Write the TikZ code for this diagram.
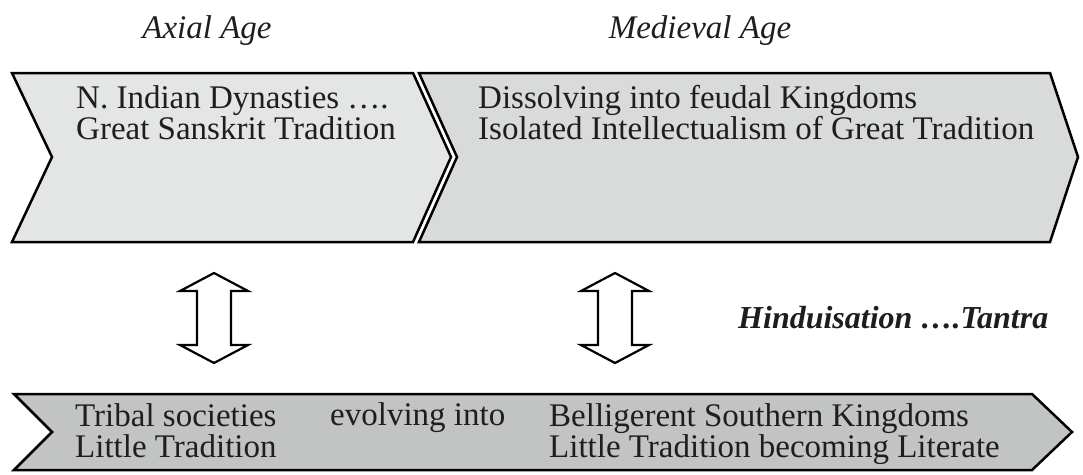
\documentclass[tikz,border=0pt]{standalone}
\usepackage{fontspec}
\setmainfont{Liberation Serif}

\definecolor{paleband}{HTML}{E4E6E5}
\definecolor{midband}{HTML}{D9DBDA}
\definecolor{darkband}{HTML}{C2C4C3}
\definecolor{ink}{HTML}{1E1E1E}

\tikzset{
  band/.style={draw=black, line width=2.5pt, line join=miter},
  txt/.style={anchor=base west, inner sep=0pt, align=left, text=ink,
    font=\fontsize{33}{31}\selectfont},
  age/.style={anchor=base, inner sep=0pt, text=ink,
    font=\fontsize{33}{31}\selectfont\itshape},
  % hollow two-headed arrow between the bands
  swap/.pic={
    \draw[line width=2.2pt, line join=miter, fill=white]
      (0,-45) -- (34,-27) -- (17,-27) -- (17,27) -- (34,27) -- (0,45)
      -- (-34,27) -- (-17,27) -- (-17,-27) -- (-34,-27) -- cycle;
  }
}

\begin{document}
\begin{tikzpicture}[x=1pt,y=-1pt]
  \useasboundingbox (0,0) rectangle (1083,474);

  % the two ages on top
  \draw[band,fill=paleband] (12,73) -- (413,73) -- (451,157) -- (413,242)
    -- (12,242) -- (52,157) -- cycle;
  \draw[band,fill=midband] (419,73) -- (1050,73) -- (1078,157) -- (1050,242)
    -- (419,242) -- (457,157) -- cycle;
  % the southern band
  \draw[band,fill=darkband] (14,394) -- (1032,394) -- (1072,432) -- (1032,470)
    -- (14,470) -- (52,432) -- cycle;

  \node[age] (axial) at (207,38) {Axial Age};
  \node[age] (medieval) at (700,38) {Medieval Age};

  \node[txt] (north) at (76,139) {N. Indian Dynasties ….\\Great Sanskrit Tradition};
  \node[txt] (feudal) at (478,139) {Dissolving into feudal Kingdoms\\Isolated Intellectualism of Great Tradition};

  \node[txt] (tribal) at (75,457) {Tribal societies\\Little Tradition};
  \node[txt] (evolve) at (330,425) {evolving into};
  \node[txt] (south) at (549,457) {Belligerent Southern Kingdoms\\Little Tradition becoming Literate};

  \pic (left) at (214,318) {swap};
  \pic (right) at (615,318) {swap};

  \node[txt, font=\fontsize{32}{31}\selectfont\bfseries\itshape] (hindu) at (738,328)
    {Hinduisation ….Tantra};
\end{tikzpicture}
\end{document}
